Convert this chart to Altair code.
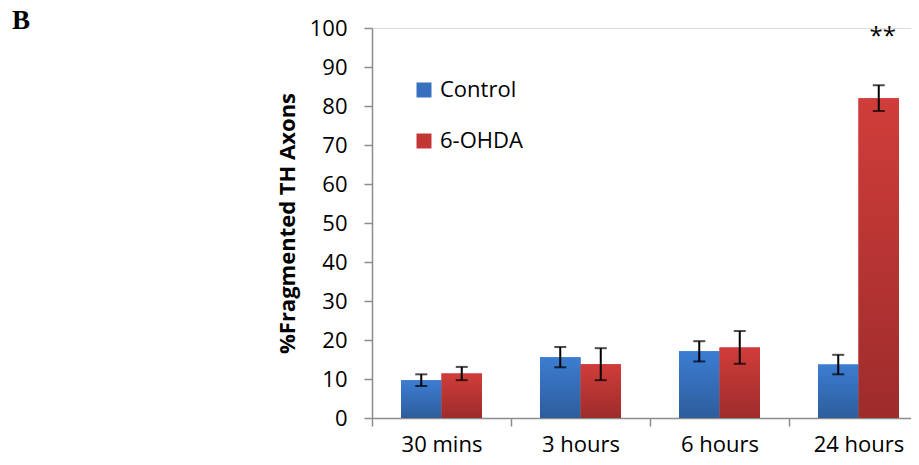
import altair as alt
import pandas as pd

times = ["30 mins", "3 hours", "6 hours", "24 hours"]
groups = ["Control", "6-OHDA"]
control_mean = [9.7, 15.6, 17.1, 13.7]
control_err = [1.5, 2.6, 2.6, 2.5]
ohda_mean = [11.4, 13.8, 18.1, 82.0]
ohda_err = [1.7, 4.1, 4.2, 3.3]
sig_time = ["24 hours"]
sig_group = ["6-OHDA"]
sig_label = ["**"]
sig_y = [96]
panel_label = ["B"]
y_ticks = [0, 10, 20, 30, 40, 50, 60, 70, 80, 90, 100]

rows = []
for t, m, e in zip(times, control_mean, control_err):
    rows.append({"time": t, "group": "Control", "mean": m, "lo": m - e, "hi": m + e})
for t, m, e in zip(times, ohda_mean, ohda_err):
    rows.append({"time": t, "group": "6-OHDA", "mean": m, "lo": m - e, "hi": m + e})
df = pd.DataFrame(rows)
sig_df = pd.DataFrame({"time": sig_time, "group": sig_group, "label": sig_label, "y": sig_y})
panel_df = pd.DataFrame({"t": panel_label})

BLUE = "#3670BE"
RED = "#C23634"
blue_grad = alt.Gradient(gradient="linear", x1=0, y1=0, x2=0, y2=1,
                         stops=[alt.GradientStop(color="#3C7DD2", offset=0),
                                alt.GradientStop(color="#2D5D9C", offset=1)])
red_grad = alt.Gradient(gradient="linear", x1=0, y1=0, x2=0, y2=1,
                        stops=[alt.GradientStop(color="#D03D3A", offset=0),
                               alt.GradientStop(color="#9D2C2B", offset=1)])

AX = "#8c8c8c"
FONT = "Open Sans"

x_scale = alt.Scale(domain=times, paddingInner=0, paddingOuter=0)
xoff_scale = alt.Scale(domain=groups, paddingInner=0, paddingOuter=0.716)
y_scale = alt.Scale(domain=[0, 100], nice=False)

x_axis = alt.Axis(title=None, tickBand="extent", labelAngle=0, labelFont=FONT,
                  labelFontSize=22, labelColor="#000", labelPadding=8, tickSize=8,
                  tickColor=AX, domainColor=AX, tickWidth=1.5, domainWidth=1.5, grid=False)
y_axis = alt.Axis(values=y_ticks, labelOverlap=False, title="%Fragmented TH Axons",
                  titleFont=FONT, titleFontSize=22, titleFontWeight="bold", titleColor="#000",
                  titlePadding=10, labelFont=FONT, labelFontSize=22, labelColor="#000",
                  labelPadding=17, tickSize=8, tickColor=AX, domainColor=AX,
                  tickWidth=1.5, domainWidth=1.5, grid=False)

X = alt.X("time:N", scale=x_scale, axis=x_axis, sort=times)
XO = alt.XOffset("group:N", scale=xoff_scale, sort=groups)


def Y(field):
    return alt.Y(field, scale=y_scale, axis=y_axis)


base = alt.Chart(df).encode(x=X, xOffset=XO)

bars = base.mark_bar().encode(
    y=Y("mean:Q"),
    color=alt.Color("group:N", scale=alt.Scale(domain=groups, range=[BLUE, RED]),
                    legend=alt.Legend(orient="none", legendX=41, legendY=51, title=None,
                                      symbolType="square", symbolSize=225, symbolStrokeWidth=0,
                                      labelFont=FONT, labelFontSize=22, labelColor="#000",
                                      labelOffset=5, rowPadding=29, padding=0)),
)
blue_bars = base.transform_filter(alt.datum.group == "Control").mark_bar(color=blue_grad).encode(y=Y("mean:Q"))
red_bars = base.transform_filter(alt.datum.group == "6-OHDA").mark_bar(color=red_grad).encode(y=Y("mean:Q"))

err = base.mark_rule(color="black", strokeWidth=2).encode(y=Y("lo:Q"), y2="hi:Q")
cap_lo = base.mark_tick(color="black", thickness=2, size=12).encode(y=Y("lo:Q"))
cap_hi = base.mark_tick(color="black", thickness=2, size=12).encode(y=Y("hi:Q"))

sig = alt.Chart(sig_df).mark_text(font=FONT, fontSize=24, color="#000", baseline="alphabetic", dx=4).encode(
    x=X, xOffset=XO, y=Y("y:Q"), text="label:N",
)

panel = alt.Chart(panel_df).mark_text(font="Liberation Serif", fontSize=27, fontWeight="bold",
                                      color="#000", align="left", baseline="alphabetic").encode(
    x=alt.value(-360), y=alt.value(0.5), text="t:N"
)

chart = alt.layer(bars, blue_bars, red_bars, err, cap_lo, cap_hi, sig, panel).properties(
    width=556, height=390,
    padding={"left": 364, "top": 20, "right": -17, "bottom": 35},
    autosize=alt.AutoSizeParams(type="none"),
).configure_view(stroke=None).configure(background="white")

chart.save("out.html", embed_options={"renderer": "svg", "actions": False})
